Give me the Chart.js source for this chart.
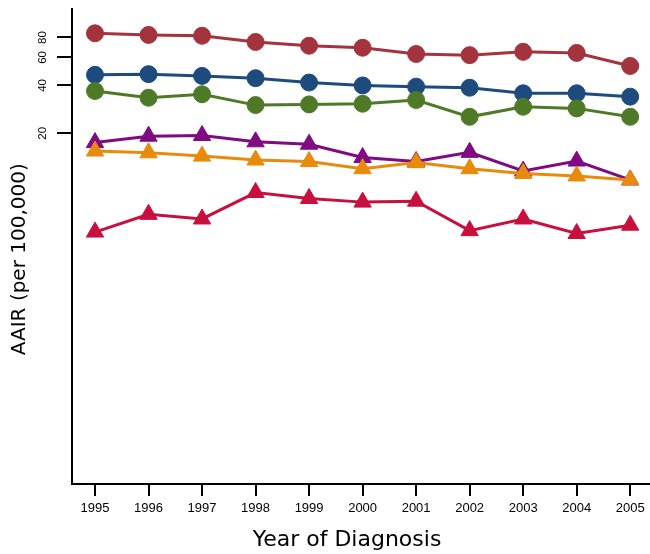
<!DOCTYPE html>
<html>
<head>
<meta charset="utf-8">
<script src="https://cdn.jsdelivr.net/npm/chart.js@4"></script>
<style>
  html, body { margin: 0; padding: 0; background: #fff; }
  #wrap { width: 650px; height: 554px; }
</style>
</head>
<body>
<div id="wrap"><canvas id="aairChart" width="650" height="554"></canvas></div>
<script>
// Données
const years = [1995, 1996, 1997, 1998, 1999, 2000, 2001, 2002, 2003, 2004, 2005];
const yTicks = [20, 40, 60, 80];

const redCircles = [85, 83, 82, 75, 71, 69, 63, 62, 65, 64, 53];
const blueCircles = [46.6, 47.1, 45.9, 44.4, 41.7, 40, 39.3, 38.7, 35.7, 35.7, 34];
const greenCircles = [36.9, 33.5, 35.2, 30.1, 30.4, 30.7, 32.4, 25.4, 29.4, 28.7, 25.4];
const purpleTriangles = [17.5, 19.2, 19.4, 17.7, 17.1, 14.1, 13.3, 15.2, 11.6, 13.4, 10.2];
const orangeTriangles = [15.5, 15.1, 14.4, 13.6, 13.3, 12.0, 13.1, 12.0, 11.2, 10.8, 10.2];
const crimsonTriangles = [4.8, 6.2, 5.8, 8.5, 7.8, 7.4, 7.5, 4.9, 5.8, 4.7, 5.3];

function makeSeries(values, color, shape) {
    return {
        data: values.map((v, i) => ({ x: years[i], y: v })),
        borderColor: color,
        backgroundColor: color,
        pointBackgroundColor: color,
        pointBorderColor: color,
        borderWidth: 3,
        pointStyle: shape,
        pointRadius: shape === 'circle' ? 8.5 : 10,
        pointBorderWidth: 1,
        tension: 0,
        fill: false
    };
}

// Ordre de dessin : les triangles d'abord, puis les cercles
const datasets = [
    makeSeries(crimsonTriangles, '#c8103f', 'triangle'),
    makeSeries(orangeTriangles, '#e88a0c', 'triangle'),
    makeSeries(purpleTriangles, '#7f0a82', 'triangle'),
    makeSeries(greenCircles, '#4e7a27', 'circle'),
    makeSeries(blueCircles, '#1d4b7e', 'circle'),
    makeSeries(redCircles, '#a3333d', 'circle')
];

const tickFont = "'Liberation Sans', Arial, sans-serif";
const titleFont = "'DejaVu Sans', sans-serif";
const pad = '\u00a0\u00a0\u00a0\u00a0';

new Chart(document.getElementById('aairChart').getContext('2d'), {
    type: 'line',
    data: { datasets: datasets },
    options: {
        responsive: false,
        animation: false,
        layout: { autoPadding: false, padding: { top: 9, right: 0, left: 0, bottom: 0 } },
        plugins: {
            legend: { display: false },
            tooltip: { enabled: false }
        },
        scales: {
            x: {
                type: 'linear',
                min: 1994.57,
                max: 2005.37,
                afterBuildTicks: scale => { scale.ticks = years.map(v => ({ value: v })); },
                afterFit: scale => {
                    scale.height = 70;
                    scale.paddingLeft = 0;
                    scale.paddingRight = 0;
                },
                border: { display: true, color: '#000', width: 2 },
                grid: { display: true, drawOnChartArea: false, drawTicks: true, tickLength: 12, color: '#000', lineWidth: 2 },
                ticks: {
                    color: '#000',
                    font: { family: tickFont, size: 13 },
                    padding: 5,
                    maxRotation: 0,
                    minRotation: 0,
                    callback: v => String(v)
                },
                title: {
                    display: true,
                    text: 'Year of Diagnosis' + pad,
                    color: '#000',
                    font: { family: titleFont, size: 22 },
                    padding: { top: 4, bottom: 1 }
                }
            },
            y: {
                type: 'logarithmic',
                min: 0.1256,
                max: 120.8,
                afterBuildTicks: scale => { scale.ticks = yTicks.map(v => ({ value: v })); },
                afterFit: scale => {
                    scale.width = 72;
                    scale.paddingTop = 0;
                    scale.paddingBottom = 0;
                },
                border: { display: true, color: '#000', width: 2 },
                grid: { display: true, drawOnChartArea: false, drawTicks: true, tickLength: 15, color: '#000', lineWidth: 2 },
                ticks: {
                    color: '#000',
                    font: { family: tickFont, size: 11.5 },
                    padding: 8,
                    crossAlign: 'center',
                    minRotation: 90,
                    maxRotation: 90,
                    callback: v => String(v)
                },
                title: {
                    display: true,
                    text: 'AAIR (per 100,000)' + pad,
                    color: '#000',
                    font: { family: titleFont, size: 20 },
                    padding: { top: 8, bottom: 6 }
                }
            }
        }
    }
});
</script>
</body>
</html>
